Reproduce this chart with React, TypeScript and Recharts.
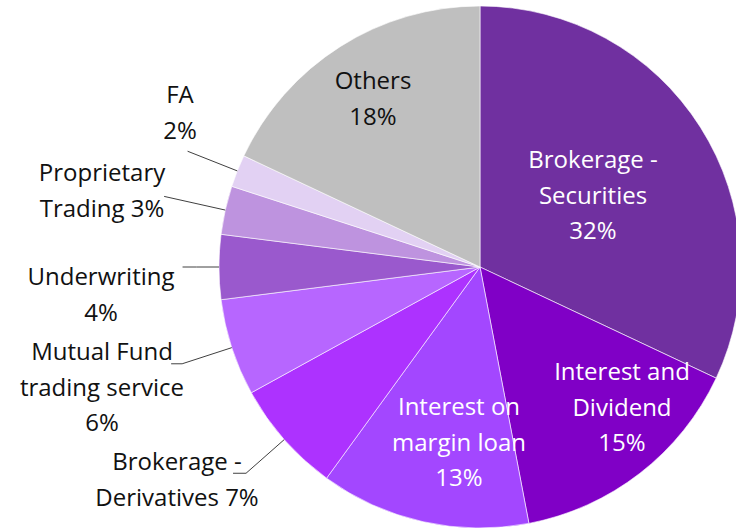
import React from "react";
import { PieChart, Pie, Cell } from "recharts";

const categories = [
  "Brokerage - Securities",
  "Interest and Dividend",
  "Interest on margin loan",
  "Brokerage - Derivatives",
  "Mutual Fund trading service",
  "Underwriting",
  "Proprietary Trading",
  "FA",
  "Others",
];
const shares = [32, 15, 13, 7, 6, 4, 3, 2, 18];
const labelLines: string[][] = [
  ["Brokerage -", "Securities", "32%"],
  ["Interest and", "Dividend", "15%"],
  ["Interest on", "margin loan", "13%"],
  ["Brokerage -", "Derivatives 7%"],
  ["Mutual Fund", "trading service", "6%"],
  ["Underwriting", "4%"],
  ["Proprietary", "Trading 3%"],
  ["FA", "2%"],
  ["Others", "18%"],
];

const colors = [
  "#7030A0",
  "#8000C6",
  "#A347FF",
  "#AD32FF",
  "#B766FF",
  "#9A59CD",
  "#BE93DF",
  "#E2D1F3",
  "#BFBFBF",
];
const textColors = ["#fff", "#fff", "#fff", "#111", "#111", "#111", "#111", "#111", "#111"];

// label layout: text center x / first baseline offset relative to pie center, leader line settings
type Layout = { dx: number; dy: number; leader?: { k: number; tail: number } };
const layouts: Layout[] = [
  { dx: 113, dy: -99 },
  { dx: 142, dy: 113 },
  { dx: -21, dy: 148 },
  { dx: -303, dy: 203, leader: { k: 1.195, tail: 13 } },
  { dx: -378, dy: 93, leader: { k: 1.2, tail: 11 } },
  { dx: -379, dy: 18, leader: { k: 1.086, tail: 14 } },
  { dx: -378, dy: -86, leader: { k: 1.24, tail: 0 } },
  { dx: -300, dy: -164, leader: { k: 1.205, tail: 0 } },
  { dx: -107, dy: -178 },
];

const data = categories.map((name, i) => ({ name, value: shares[i] }));

const RAD = Math.PI / 180;
const FONT = "'Open Sans', sans-serif";
const LINE_H = 35.5;

const renderLabel = (props: any) => {
  const { cx, cy, midAngle, outerRadius, index } = props;
  const lay = layouts[index];
  const lines = labelLines[index];
  const tx = cx + lay.dx;
  const ty = cy + lay.dy;
  let leader: React.ReactNode = null;
  if (lay.leader) {
    const cos = Math.cos(-midAngle * RAD);
    const sin = Math.sin(-midAngle * RAD);
    const sx = cx + outerRadius * cos;
    const sy = cy + outerRadius * sin;
    const ex = cx + outerRadius * lay.leader.k * cos;
    const ey = cy + outerRadius * lay.leader.k * sin;
    const pts = `${sx},${sy} ${ex},${ey} ${ex - lay.leader.tail},${ey}`;
    leader = <polyline points={pts} fill="none" stroke="#404040" strokeWidth={1} />;
  }
  return (
    <g key={`lbl-${index}`}>
      {leader}
      <text
        x={tx}
        y={ty}
        textAnchor="middle"
        fill={textColors[index]}
        fontFamily={FONT}
        fontSize={24}
      >
        {lines.map((l, j) => (
          <tspan key={j} x={tx} y={ty + j * LINE_H}>
            {l}
          </tspan>
        ))}
      </text>
    </g>
  );
};

export default function App() {
  return (
    <div style={{ position: "absolute", left: 0, top: 0, width: 736, height: 529, background: "#fff" }}>
      <PieChart width={736} height={529} margin={{ top: 0, right: 0, bottom: 0, left: 0 }}>
        <Pie
          data={data}
          dataKey="value"
          nameKey="name"
          cx={480}
          cy={267}
          outerRadius={261}
          startAngle={90}
          endAngle={-270}
          stroke="#ffffff"
          strokeWidth={0.6}
          isAnimationActive={false}
          labelLine={false}
          label={renderLabel}
        >
          {data.map((d, i) => (
            <Cell key={d.name} fill={colors[i]} />
          ))}
        </Pie>
      </PieChart>
    </div>
  );
}
